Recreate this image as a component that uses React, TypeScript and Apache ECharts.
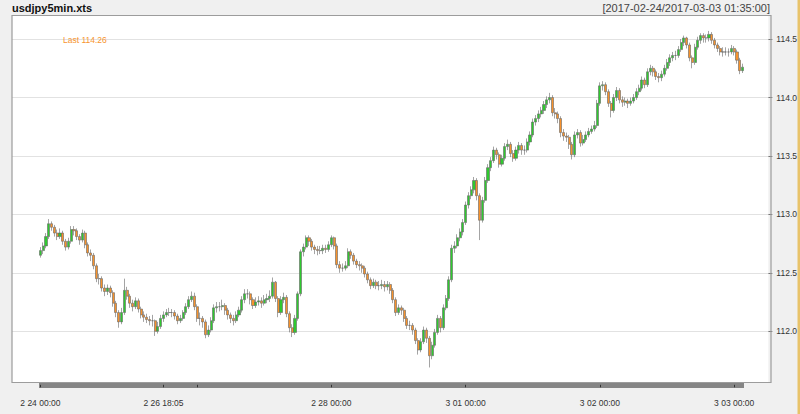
import React, { useEffect, useRef } from "react";
import * as echarts from "echarts";

// trading sessions, 30-minute bars (day label, first bar time, bar count)
const sessions: [string, string, number][] = [
  ["2 24", "00:00", 44],
  ["2 26", "18:05", 12],
  ["2 27", "00:00", 48],
  ["2 28", "00:00", 48],
  ["3 01", "00:00", 48],
  ["3 02", "00:00", 48],
  ["3 03", "00:00", 4],
];

const tickLabels = ["2 24 00:00", "2 26 18:05", "2 28 00:00", "3 01 00:00", "3 02 00:00", "3 03 00:00"];
const tickMarks = [...tickLabels, "2 27 00:00"];
const priceTicks = [112, 112.5, 113, 113.5, 114, 114.5];

// [open, close, low, high]
const bars: number[][] = [
  [112.65, 112.69, 112.63, 112.72], [112.69, 112.73, 112.66, 112.76], [112.73, 112.81, 112.71, 112.84],
  [112.81, 112.92, 112.79, 112.96], [112.92, 112.89, 112.86, 112.94], [112.89, 112.84, 112.81, 112.91],
  [112.84, 112.81, 112.78, 112.87], [112.81, 112.84, 112.79, 112.88], [112.84, 112.77, 112.74, 112.86],
  [112.77, 112.72, 112.69, 112.79], [112.72, 112.77, 112.70, 112.80], [112.77, 112.87, 112.75, 112.90],
  [112.87, 112.86, 112.82, 112.90], [112.86, 112.81, 112.78, 112.88], [112.81, 112.78, 112.74, 112.83],
  [112.78, 112.84, 112.76, 112.87], [112.84, 112.74, 112.71, 112.86], [112.74, 112.67, 112.64, 112.76],
  [112.67, 112.65, 112.60, 112.70], [112.65, 112.56, 112.53, 112.67], [112.56, 112.45, 112.42, 112.58],
  [112.45, 112.45, 112.40, 112.49], [112.45, 112.37, 112.34, 112.47], [112.37, 112.34, 112.30, 112.40],
  [112.34, 112.37, 112.31, 112.40], [112.37, 112.33, 112.29, 112.39], [112.33, 112.24, 112.21, 112.35],
  [112.24, 112.16, 112.12, 112.26], [112.16, 112.08, 112.03, 112.18], [112.08, 112.16, 112.06, 112.20],
  [112.16, 112.35, 112.14, 112.45], [112.35, 112.30, 112.27, 112.38], [112.30, 112.24, 112.20, 112.32],
  [112.24, 112.21, 112.17, 112.27], [112.21, 112.26, 112.19, 112.29], [112.26, 112.19, 112.16, 112.28],
  [112.19, 112.14, 112.11, 112.21], [112.14, 112.12, 112.08, 112.17], [112.12, 112.10, 112.07, 112.15],
  [112.10, 112.09, 112.05, 112.13], [112.09, 112.09, 112.04, 112.14], [112.09, 112.00, 111.96, 112.10],
  [112.00, 112.04, 111.98, 112.08], [112.04, 112.11, 112.02, 112.14],
  // sunday open
  [112.11, 112.14, 112.08, 112.17], [112.14, 112.16, 112.12, 112.19], [112.16, 112.16, 112.13, 112.20],
  [112.16, 112.16, 112.12, 112.19], [112.16, 112.13, 112.10, 112.18], [112.13, 112.09, 112.06, 112.15],
  [112.09, 112.11, 112.07, 112.14], [112.11, 112.16, 112.09, 112.18], [112.16, 112.21, 112.14, 112.24],
  [112.21, 112.27, 112.19, 112.30], [112.27, 112.30, 112.25, 112.34], [112.30, 112.21, 112.18, 112.33],
  // 2 27
  [112.21, 112.11, 112.08, 112.23], [112.11, 112.11, 112.05, 112.16], [112.11, 112.08, 112.03, 112.13],
  [112.08, 111.97, 111.94, 112.10], [111.97, 112.01, 111.95, 112.05], [112.01, 112.09, 111.99, 112.12],
  [112.09, 112.20, 112.07, 112.23], [112.20, 112.21, 112.16, 112.25], [112.21, 112.21, 112.17, 112.25],
  [112.21, 112.22, 112.18, 112.27], [112.22, 112.18, 112.14, 112.24], [112.18, 112.14, 112.10, 112.20],
  [112.14, 112.11, 112.07, 112.16], [112.11, 112.09, 112.05, 112.14], [112.09, 112.14, 112.07, 112.17],
  [112.14, 112.18, 112.12, 112.21], [112.18, 112.27, 112.16, 112.30], [112.27, 112.32, 112.24, 112.36],
  [112.32, 112.32, 112.28, 112.36], [112.32, 112.27, 112.23, 112.34], [112.27, 112.22, 112.19, 112.29],
  [112.22, 112.25, 112.20, 112.29], [112.25, 112.26, 112.22, 112.30], [112.26, 112.24, 112.20, 112.29],
  [112.24, 112.27, 112.22, 112.31], [112.27, 112.28, 112.24, 112.32], [112.28, 112.30, 112.25, 112.35],
  [112.30, 112.42, 112.28, 112.46], [112.42, 112.28, 112.25, 112.43], [112.28, 112.16, 112.12, 112.30],
  [112.16, 112.27, 112.14, 112.30], [112.27, 112.29, 112.24, 112.33], [112.29, 112.15, 112.12, 112.31],
  [112.15, 112.03, 111.99, 112.17], [112.03, 111.99, 111.95, 112.06], [111.99, 112.11, 111.97, 112.14],
  [112.11, 112.32, 112.09, 112.34], [112.32, 112.68, 112.30, 112.70], [112.68, 112.72, 112.64, 112.75],
  [112.72, 112.80, 112.70, 112.82], [112.80, 112.77, 112.73, 112.82], [112.77, 112.72, 112.69, 112.79],
  [112.72, 112.70, 112.66, 112.74], [112.70, 112.69, 112.65, 112.73], [112.69, 112.69, 112.66, 112.73],
  [112.69, 112.71, 112.66, 112.74], [112.71, 112.70, 112.67, 112.74], [112.70, 112.74, 112.68, 112.77],
  // 2 28
  [112.74, 112.80, 112.72, 112.82], [112.80, 112.73, 112.70, 112.81], [112.73, 112.57, 112.54, 112.75],
  [112.57, 112.54, 112.50, 112.60], [112.54, 112.54, 112.51, 112.58], [112.54, 112.56, 112.52, 112.60],
  [112.56, 112.68, 112.54, 112.71], [112.68, 112.65, 112.62, 112.70], [112.65, 112.60, 112.57, 112.67],
  [112.60, 112.57, 112.54, 112.62], [112.57, 112.56, 112.52, 112.60], [112.56, 112.54, 112.50, 112.58],
  [112.54, 112.49, 112.46, 112.56], [112.49, 112.44, 112.41, 112.51], [112.44, 112.39, 112.36, 112.46],
  [112.39, 112.42, 112.37, 112.45], [112.42, 112.39, 112.36, 112.44], [112.39, 112.39, 112.35, 112.43],
  [112.39, 112.40, 112.36, 112.44], [112.40, 112.38, 112.34, 112.43], [112.38, 112.40, 112.35, 112.43],
  [112.40, 112.35, 112.32, 112.42], [112.35, 112.27, 112.24, 112.37], [112.27, 112.16, 112.13, 112.29],
  [112.16, 112.20, 112.14, 112.23], [112.20, 112.18, 112.14, 112.22], [112.18, 112.11, 112.08, 112.20],
  [112.11, 112.05, 112.02, 112.13], [112.05, 112.05, 112.01, 112.09], [112.05, 112.01, 111.97, 112.07],
  [112.01, 111.92, 111.89, 112.03], [111.92, 111.84, 111.80, 111.94], [111.84, 111.91, 111.82, 111.94],
  [111.91, 112.01, 111.89, 112.04], [112.01, 111.94, 111.90, 112.03], [111.94, 111.79, 111.69, 111.96],
  [111.79, 111.88, 111.76, 111.91], [111.88, 111.99, 111.86, 112.02], [111.99, 112.11, 111.97, 112.14],
  [112.11, 112.03, 111.99, 112.13], [112.03, 112.20, 112.01, 112.23], [112.20, 112.28, 112.18, 112.31],
  [112.28, 112.44, 112.26, 112.47], [112.44, 112.71, 112.42, 112.74], [112.71, 112.73, 112.67, 112.77],
  [112.73, 112.80, 112.71, 112.83], [112.80, 112.85, 112.77, 112.88], [112.85, 112.93, 112.82, 112.96],
  // 3 01
  [112.93, 113.08, 112.91, 113.11], [113.08, 113.16, 113.05, 113.19], [113.16, 113.21, 113.13, 113.24],
  [113.21, 113.29, 113.18, 113.32], [113.29, 113.16, 113.12, 113.31], [113.16, 112.95, 112.78, 113.18],
  [112.95, 113.12, 112.93, 113.15], [113.12, 113.29, 113.10, 113.32], [113.29, 113.40, 113.27, 113.43],
  [113.40, 113.46, 113.37, 113.49], [113.46, 113.55, 113.44, 113.58], [113.55, 113.51, 113.47, 113.57],
  [113.51, 113.43, 113.40, 113.53], [113.43, 113.48, 113.41, 113.51], [113.48, 113.58, 113.46, 113.61],
  [113.58, 113.60, 113.55, 113.64], [113.60, 113.52, 113.49, 113.62], [113.52, 113.48, 113.45, 113.55],
  [113.48, 113.55, 113.46, 113.58], [113.55, 113.59, 113.52, 113.62], [113.59, 113.55, 113.51, 113.61],
  [113.55, 113.55, 113.51, 113.59], [113.55, 113.62, 113.53, 113.65], [113.62, 113.68, 113.59, 113.71],
  [113.68, 113.79, 113.66, 113.82], [113.79, 113.82, 113.76, 113.85], [113.82, 113.86, 113.79, 113.89],
  [113.86, 113.89, 113.83, 113.92], [113.89, 113.94, 113.86, 113.97], [113.94, 113.98, 113.91, 114.01],
  [113.98, 114.00, 113.95, 114.04], [114.00, 113.87, 113.84, 114.02], [113.87, 113.86, 113.82, 113.91],
  [113.86, 113.82, 113.78, 113.88], [113.82, 113.70, 113.66, 113.84], [113.70, 113.67, 113.63, 113.73],
  [113.67, 113.66, 113.62, 113.70], [113.66, 113.60, 113.56, 113.68], [113.60, 113.51, 113.47, 113.62],
  [113.51, 113.68, 113.49, 113.71], [113.68, 113.70, 113.65, 113.73], [113.70, 113.61, 113.58, 113.72],
  [113.61, 113.64, 113.59, 113.68], [113.64, 113.68, 113.62, 113.71], [113.68, 113.71, 113.66, 113.74],
  [113.71, 113.73, 113.69, 113.76], [113.73, 113.76, 113.71, 113.80], [113.76, 113.95, 113.74, 113.98],
  // 3 02
  [113.95, 114.10, 113.93, 114.13], [114.10, 114.11, 114.06, 114.14], [114.11, 114.05, 114.02, 114.13],
  [114.05, 113.95, 113.92, 114.07], [113.95, 113.89, 113.83, 113.97], [113.89, 114.00, 113.87, 114.03],
  [114.00, 114.06, 113.97, 114.09], [114.06, 113.98, 113.95, 114.08], [113.98, 113.96, 113.92, 114.01],
  [113.96, 113.97, 113.93, 114.00], [113.97, 113.95, 113.91, 113.99], [113.95, 113.97, 113.93, 114.00],
  [113.97, 114.00, 113.95, 114.03], [114.00, 114.05, 113.98, 114.08], [114.05, 114.08, 114.02, 114.11],
  [114.08, 114.15, 114.06, 114.18], [114.15, 114.11, 114.08, 114.17], [114.11, 114.22, 114.09, 114.25],
  [114.22, 114.25, 114.19, 114.28], [114.25, 114.22, 114.18, 114.27], [114.22, 114.18, 114.15, 114.24],
  [114.18, 114.17, 114.13, 114.21], [114.17, 114.20, 114.14, 114.23], [114.20, 114.25, 114.18, 114.28],
  [114.25, 114.30, 114.23, 114.33], [114.30, 114.34, 114.27, 114.37], [114.34, 114.36, 114.31, 114.39],
  [114.36, 114.36, 114.32, 114.40], [114.36, 114.41, 114.34, 114.44], [114.41, 114.47, 114.39, 114.50],
  [114.47, 114.51, 114.44, 114.53], [114.51, 114.45, 114.42, 114.52], [114.45, 114.34, 114.31, 114.47],
  [114.34, 114.30, 114.25, 114.36], [114.30, 114.43, 114.28, 114.46], [114.43, 114.49, 114.41, 114.52],
  [114.49, 114.53, 114.46, 114.55], [114.53, 114.51, 114.47, 114.55], [114.51, 114.51, 114.47, 114.54],
  [114.51, 114.54, 114.48, 114.57], [114.54, 114.49, 114.46, 114.56], [114.49, 114.45, 114.42, 114.51],
  [114.45, 114.42, 114.39, 114.47], [114.42, 114.39, 114.36, 114.44], [114.39, 114.39, 114.35, 114.43],
  [114.39, 114.39, 114.36, 114.43], [114.39, 114.39, 114.35, 114.42], [114.39, 114.42, 114.37, 114.45],
  // 3 03
  [114.42, 114.39, 114.36, 114.44], [114.39, 114.32, 114.29, 114.41], [114.32, 114.23, 114.20, 114.34],
  [114.23, 114.26, 114.21, 114.29],
];

const pad = (n: number) => String(n).padStart(2, "0");

const times: string[] = [];
sessions.forEach(([day, start, count]) => {
  const [h, m] = start.split(":").map(Number);
  let t = h * 60 + m;
  for (let i = 0; i < count; i++) {
    times.push(`${day} ${pad(Math.floor(t / 60))}:${pad(t % 60)}`);
    t += 30;
  }
});

const lastClose = bars[bars.length - 1][1];

const FONT = '"Liberation Sans", Arial, sans-serif';
const yMin = 111.563;
const yMax = 114.702;

const App: React.FC = () => {
  const chartRef = useRef<HTMLDivElement>(null);

  useEffect(() => {
    if (!chartRef.current) return;
    const chart = echarts.init(chartRef.current, undefined, { renderer: "svg" });

    chart.setOption({
      animation: false,
      backgroundColor: "#f0f0f0",
      textStyle: { fontFamily: FONT },
      grid: [
        { left: 12, right: 29, top: 15.5, bottom: 31.7, show: true, backgroundColor: "#fff", borderWidth: 0 },
        { left: 39, right: 56, top: 15.5, bottom: 31.7 },
      ],
      xAxis: [
        { type: "category", gridIndex: 0, data: times, show: false },
        {
          type: "category",
          gridIndex: 1,
          data: times,
          boundaryGap: true,
          offset: 2.5,
          axisLine: { show: true, lineStyle: { color: "#858585", width: 5, cap: "butt" } },
          axisTick: {
            show: true,
            alignWithLabel: true,
            length: 2.5,
            interval: (_i: number, v: string) => tickMarks.includes(v),
            lineStyle: { color: "#333", width: 1 },
          },
          axisLabel: {
            interval: (_i: number, v: string) => tickLabels.includes(v),
            color: "#333",
            fontSize: 8.5,
            fontFamily: FONT,
            margin: 14,
          },
          splitLine: { show: false },
        },
      ],
      yAxis: [
        {
          type: "value",
          gridIndex: 0,
          position: "right",
          min: yMin,
          max: yMax,
          minInterval: 0.5,
          maxInterval: 0.5,
          axisLine: { show: false },
          axisTick: { show: true, length: 4, customValues: priceTicks, lineStyle: { color: "#777" } },
          axisLabel: {
            customValues: priceTicks,
            color: "#333",
            fontSize: 8.5,
            fontFamily: FONT,
            margin: 8,
            formatter: (v: number) => v.toFixed(1),
          },
          splitLine: { show: true, lineStyle: { color: "#e2e2e2", width: 1 } },
        },
        { type: "value", gridIndex: 1, min: yMin, max: yMax, show: false, splitLine: { show: false } },
      ],
      series: [
        {
          name: "usdjpy",
          type: "candlestick",
          xAxisIndex: 1,
          yAxisIndex: 1,
          data: bars,
          barWidth: "92%",
          itemStyle: {
            color: "#2fc92f",
            color0: "#f7922c",
            borderColor: "#666",
            borderColor0: "#666",
            borderWidth: 0.6,
          },
        },
      ],
      graphic: [
        {
          type: "rect",
          z: 100,
          silent: true,
          shape: { x: 12, y: 15.5, width: 759, height: 367 },
          style: { fill: "none", stroke: "#9c9c9c", lineWidth: 1.2 },
        },
        {
          type: "text",
          left: 12,
          top: 2,
          style: { text: "usdjpy5min.xts", font: `bold 11px ${FONT}`, fill: "#111" },
        },
        {
          type: "text",
          right: 30,
          top: 2,
          style: { text: "[2017-02-24/2017-03-03 01:35:00]", font: `11px ${FONT}`, fill: "#444" },
        },
        {
          type: "text",
          left: 63,
          top: 35.5,
          z: 100,
          style: { text: `Last ${lastClose.toFixed(2)}`, font: `8.5px ${FONT}`, fill: "#f7952f" },
        },
        {
          type: "rect",
          right: 0,
          top: 0,
          shape: { width: 2.5, height: 414 },
          style: { fill: "#e8c36a" },
        },
      ],
    });

    return () => chart.dispose();
  }, []);

  return (
    <div
      ref={chartRef}
      style={{ position: "fixed", left: 0, top: 0, width: 800, height: 414 }}
    />
  );
};

export default App;
